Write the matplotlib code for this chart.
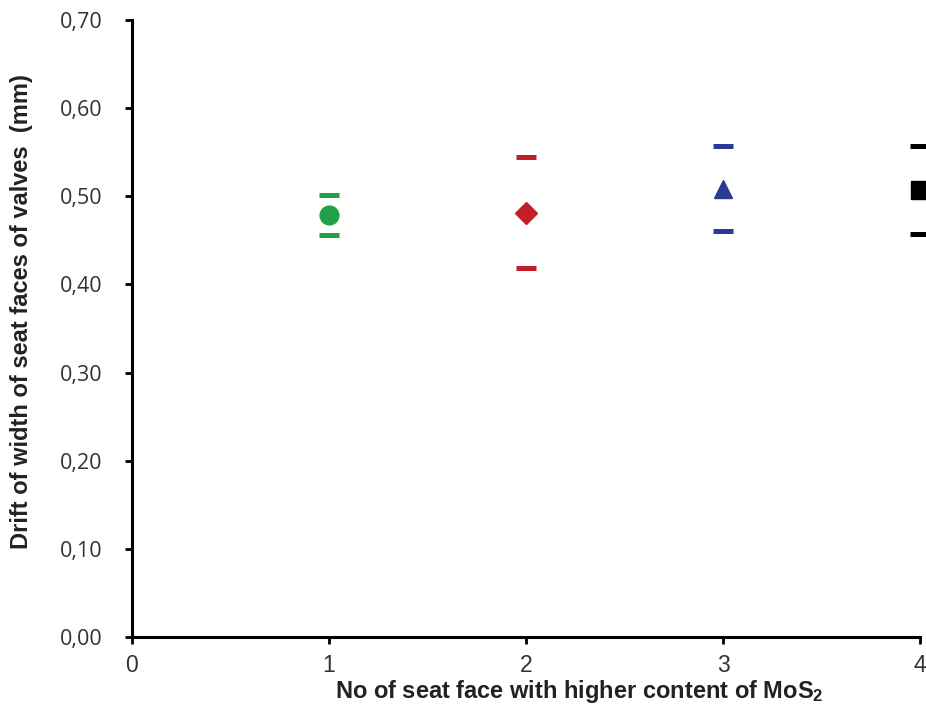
import matplotlib
matplotlib.use("Agg")
import matplotlib.pyplot as plt
from matplotlib.ticker import FuncFormatter

plt.rcParams['mathtext.default'] = 'regular'
plt.rcParams['mathtext.fontset'] = 'custom'
plt.rcParams['mathtext.rm'] = 'Liberation Sans:bold'
plt.rcParams['mathtext.bf'] = 'Liberation Sans:bold'

# seat face number, mean drift and the error bar ends
x_vals = [1, 2, 3, 4]
means = [0.479, 0.481, 0.508, 0.507]
upper = [0.502, 0.545, 0.557, 0.557]
lower = [0.456, 0.419, 0.461, 0.457]
markers = ['o', 'D', '^', 's']
colors = ['#21a04a', '#c1202b', '#2d3a94', '#000000']
msizes = [13.5, 11, 13, 13.5]

fig = plt.figure(figsize=(9.26, 7.07), dpi=100)
ax = fig.add_axes([0.1425, 0.099, 0.851, 0.8727])

for x, m, hi, lo, mk, c, ms in zip(x_vals, means, upper, lower, markers, colors, msizes):
    ax.errorbar([x], [m], yerr=[[m - lo], [hi - m]], fmt=mk, color=c, ms=ms,
                elinewidth=0, capsize=7.2, capthick=3.6, ecolor=c, clip_on=False)

ax.set_xlim(0, 4)
ax.set_ylim(0, 0.70)
ax.set_xticks([0, 1, 2, 3, 4])
ax.set_yticks([0.0, 0.1, 0.2, 0.3, 0.4, 0.5, 0.6, 0.7])
ax.yaxis.set_major_formatter(FuncFormatter(lambda v, p: f"{v:.2f}".replace('.', ',')))

for s in ['top', 'right']:
    ax.spines[s].set_visible(False)
for s in ['left', 'bottom']:
    ax.spines[s].set_linewidth(2.2)

ax.tick_params(axis='both', direction='out', width=2, length=5)
ax.tick_params(axis='y', labelsize=15.5, labelfontfamily='Open Sans', pad=16,
               labelcolor='#333333')
ax.tick_params(axis='x', labelsize=16.5, labelfontfamily='Liberation Sans', pad=7,
               labelcolor='#333333')

ax.set_xlabel('No of seat face with higher content of MoS$_{2}$', fontsize=17,
              fontweight='bold', family='Liberation Sans', color='#222222')
ax.xaxis.set_label_coords(0.568, -0.066)
ax.set_ylabel('Drift of width of seat faces of valves  (mm)', fontsize=17,
              fontweight='bold', family='Liberation Sans', color='#222222')
ax.yaxis.set_label_coords(-0.125, 0.528)

fig.savefig('out.png', dpi=100)
